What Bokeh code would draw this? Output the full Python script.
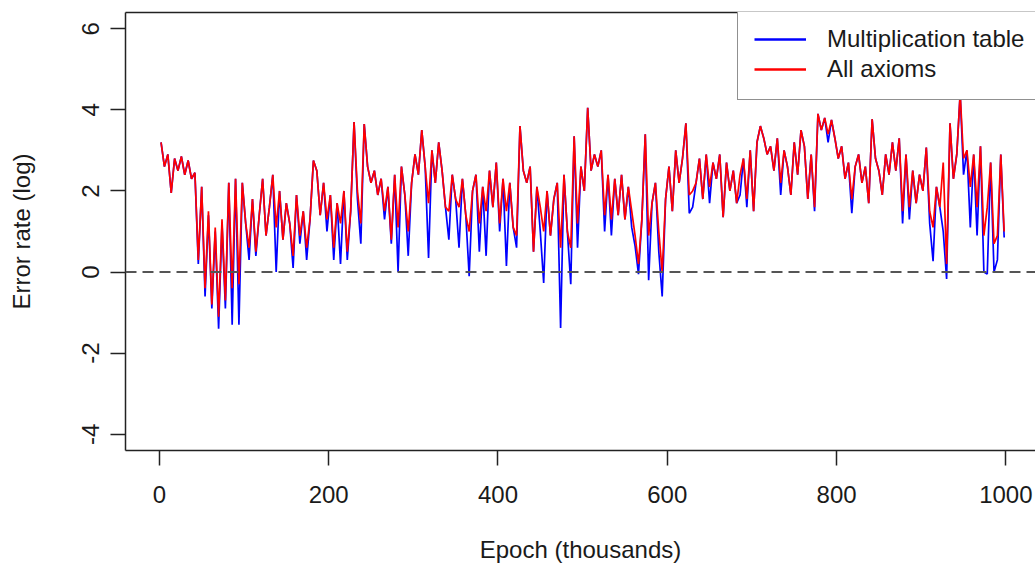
from bokeh.plotting import figure
from bokeh.models import Range1d, LinearAxis, FixedTicker, Legend, LegendItem, Span
from bokeh.embed import file_html
from bokeh.resources import INLINE

epochs = list(range(2, 1000, 4))

all_axioms = [
    3.2, 2.6, 2.9, 1.95, 2.8, 2.5, 2.85, 2.4, 2.75, 2.3, 2.45,
    0.3, 2.1, -0.4, 1.5, -0.8, 1.1, -1.1, 1.3, -0.7, 2.2, -0.4, 2.3, -0.3, 2.2,
    1.2, 0.6, 1.8, 0.5, 1.4, 2.3, 0.9, 1.6, 2.4, 1.1, 2.0, 0.8, 1.7, 1.2, 0.4, 1.9, 0.9, 1.5, 0.6, 1.3,
    2.75, 2.5, 1.4, 2.2, 1.3, 1.9, 0.6, 1.7, 1.2, 2.0, 0.5, 1.5,
    3.7, 2.0, 1.2, 3.65, 2.6, 2.2, 2.5, 1.9, 2.3, 1.5, 2.1, 0.8, 2.4, 1.1, 2.6, 1.9, 1.0, 2.2,
    2.9, 2.4, 3.5, 2.6, 1.7, 3.0, 2.2, 3.2, 2.5, 1.6, 1.5, 2.4, 1.8, 1.6, 2.3, 1.4, 1.0, 2.0, 2.4, 1.2, 2.1, 1.5, 2.5, 1.6, 2.7, 1.2, 2.3,
    1.5, 2.2, 1.1, 0.9, 3.6, 2.5, 2.2, 2.6, 0.5, 2.1, 1.6, 1.0, 2.0, 0.9, 1.8, 2.2, 0.6, 2.4, 1.0, 0.6, 3.35, 1.2, 2.6, 2.0, 4.05, 2.5, 2.9,
    2.6, 3.0, 1.4, 2.4, 1.3, 2.3, 1.4, 2.4, 1.3, 2.1, 1.5, 0.9, 0.2, 1.3, 3.4, 0.9, 1.7, 2.2, 1.0, 0.0, 1.8, 2.6, 1.5, 3.0, 2.2, 2.8,
    3.67, 1.9, 2.0, 2.2, 2.8, 1.8, 2.9, 2.1, 2.7, 2.3, 2.9, 1.35, 2.7, 2.0, 2.5, 1.7, 2.4, 2.8, 1.8, 3.0, 1.5, 3.2, 3.6, 3.3, 2.9,
    3.1, 2.5, 3.3, 2.2, 3.0, 2.6, 1.9, 3.2, 2.4, 3.5, 3.1, 1.8, 2.9, 1.6, 3.9, 3.5, 3.8, 3.4, 3.75, 3.3, 2.8, 3.1, 2.3, 2.7, 1.8,
    2.6, 2.9, 2.2, 2.6, 1.7, 3.77, 2.8, 2.5, 1.9, 2.9, 2.4, 3.2, 2.5, 3.3, 1.5, 2.9, 1.6, 2.5, 1.7, 2.4, 2.0, 3.07, 1.5, 1.1, 2.1,
    1.6, 2.7, 0.2, 3.67, 2.3, 2.9, 4.4, 2.8, 3.0, 2.1, 2.9, 1.6, 3.1, 0.9, 1.6, 2.7, 0.7, 0.9, 2.9, 1.0,
]

multiplication_table = [
    3.2, 2.6, 2.9, 1.95, 2.8, 2.5, 2.85, 2.4, 2.75, 2.3, 2.45,
    0.2, 2.1, -0.6, 1.4, -0.9, 1.0, -1.4, 1.2, -0.9, 2.2, -1.3, 2.3, -1.3, 2.2,
    1.2, 0.3, 1.8, 0.4, 1.4, 2.3, 0.9, 1.6, 2.4, 0.0, 2.0, 0.8, 1.7, 1.2, 0.1, 1.9, 0.7, 1.5, 0.3, 1.3,
    2.75, 2.5, 1.4, 2.2, 1.0, 1.9, 0.3, 1.7, 0.2, 2.0, 0.3, 1.5,
    3.7, 1.8, 0.7, 3.65, 2.6, 2.2, 2.5, 1.9, 2.3, 1.3, 2.1, 0.7, 2.4, 0.0, 2.6, 1.9, 0.4, 2.2,
    2.9, 2.4, 3.5, 2.6, 0.35, 3.0, 2.2, 3.2, 2.5, 1.6, 0.8, 2.4, 1.8, 0.6, 2.3, 1.4, -0.1, 2.0, 2.4, 0.5, 2.1, 0.4, 2.5, 1.6, 2.7, 1.0, 2.3,
    0.15, 2.2, 1.1, 0.6, 3.6, 2.5, 2.2, 2.6, 0.5, 2.1, 1.0, -0.27, 2.0, 0.9, 1.8, 2.2, -1.38, 2.4, 1.0, -0.3, 3.35, 0.6, 2.6, 2.0, 4.05, 2.5, 2.9,
    2.6, 3.0, 1.0, 2.4, 0.9, 2.3, 1.4, 2.4, 1.3, 2.1, 1.1, 0.64, -0.05, 1.3, 3.4, -0.2, 1.7, 2.2, 0.5, -0.6, 1.8, 2.6, 1.5, 3.0, 2.2, 2.8,
    3.67, 1.45, 1.6, 2.2, 2.8, 1.8, 2.9, 1.7, 2.7, 2.3, 2.9, 1.35, 2.7, 2.0, 2.5, 1.7, 1.9, 2.8, 1.6, 3.0, 1.5, 3.2, 3.6, 3.3, 2.9,
    3.1, 2.5, 3.3, 1.9, 3.0, 2.6, 1.9, 3.2, 2.4, 3.5, 3.1, 1.8, 2.9, 1.5, 3.9, 3.5, 3.8, 3.2, 3.75, 3.3, 2.8, 3.1, 2.3, 2.7, 1.45,
    2.6, 2.9, 2.2, 2.6, 1.7, 3.77, 2.8, 2.5, 1.9, 2.9, 2.4, 3.2, 2.5, 3.3, 1.2, 2.9, 1.3, 2.5, 1.7, 2.4, 2.0, 3.07, 1.2, 0.27, 2.1,
    1.6, 1.0, -0.17, 3.67, 2.3, 2.9, 4.4, 2.4, 3.0, 1.1, 2.9, 0.9, 3.1, 0.0, -0.05, 2.7, 0.0, 0.3, 2.9, 0.85,
]

x_ticks = [0, 200, 400, 600, 800, 1000]
y_ticks = [-4, -2, 0, 2, 4, 6]
y_tick_labels = {-4: "-4", -2: "-2", 0: "0", 2: "2", 4: "4", 6: "6"}
series_names = ["Multiplication table", "All axioms"]
series_colors = ["#0000FF", "#FF0000"]

FONT = "Liberation Sans"

p = figure(width=1035, height=567, output_backend="svg", toolbar_location=None,
           x_range=Range1d(-40, 1035), y_range=Range1d(-4.4, 6.4),
           min_border_left=125, min_border_right=0, min_border_top=12, min_border_bottom=117,
           x_axis_location=None, y_axis_location=None)
p.grid.visible = False
p.outline_line_color = None
p.background_fill_color = "white"
p.border_fill_color = "white"

def style_axis(ax):
    ax.axis_line_color = "#222222"
    ax.axis_line_width = 1.5
    ax.major_tick_line_color = "#222222"
    ax.major_tick_line_width = 1.5
    ax.major_tick_out = 15
    ax.major_tick_in = 0
    ax.minor_tick_line_color = None
    ax.major_label_text_font = FONT
    ax.major_label_text_font_size = "24px"
    ax.major_label_text_color = "#1a1a1a"
    ax.axis_label_text_font = FONT
    ax.axis_label_text_font_size = "24px"
    ax.axis_label_text_font_style = "normal"
    ax.axis_label_text_color = "#1a1a1a"

xaxis = LinearAxis(ticker=FixedTicker(ticks=x_ticks), axis_label="Epoch (thousands)")
style_axis(xaxis)
xaxis.major_label_standoff = 20
xaxis.axis_label_standoff = 30
p.add_layout(xaxis, "below")

yaxis = LinearAxis(ticker=FixedTicker(ticks=y_ticks), axis_label="Error rate (log)")
style_axis(yaxis)
yaxis.major_label_orientation = "vertical"
yaxis.major_label_overrides = y_tick_labels
yaxis.major_label_standoff = 11
yaxis.axis_label_standoff = 45
p.add_layout(yaxis, "left")

top = LinearAxis(ticker=FixedTicker(ticks=[]))
top.axis_line_color = "#222222"
top.axis_line_width = 1.5
top.major_tick_line_color = None
top.minor_tick_line_color = None
top.major_label_text_font_size = "0px"
p.add_layout(top, "above")

p.add_layout(Span(location=0, dimension="width", line_color="#555555",
                  line_width=2, line_dash="11 6"))

r_blue = p.line(epochs, multiplication_table, line_color=series_colors[0], line_width=1.7)
r_red = p.line(epochs, all_axioms, line_color=series_colors[1], line_width=1.7)

lg_blue = p.line([None], [None], line_color=series_colors[0], line_width=2.5)
lg_red = p.line([None], [None], line_color=series_colors[1], line_width=2.5)

legend = Legend(items=[LegendItem(label=series_names[0], renderers=[lg_blue]),
                       LegendItem(label=series_names[1], renderers=[lg_red])],
                location=(612, 350), orientation="vertical")
legend.label_text_font = FONT
legend.label_text_font_size = "24px"
legend.label_text_color = "#1a1a1a"
legend.glyph_width = 52
legend.glyph_height = 18
legend.label_height = 18
legend.label_width = 320
legend.label_standoff = 21
legend.padding = 16
legend.spacing = 2
legend.margin = 0
legend.border_line_color = "#222222"
legend.border_line_width = 1.5
legend.background_fill_color = "white"
legend.background_fill_alpha = 1.0
p.add_layout(legend, "center")

open("out.html", "w").write(file_html(p, INLINE))
